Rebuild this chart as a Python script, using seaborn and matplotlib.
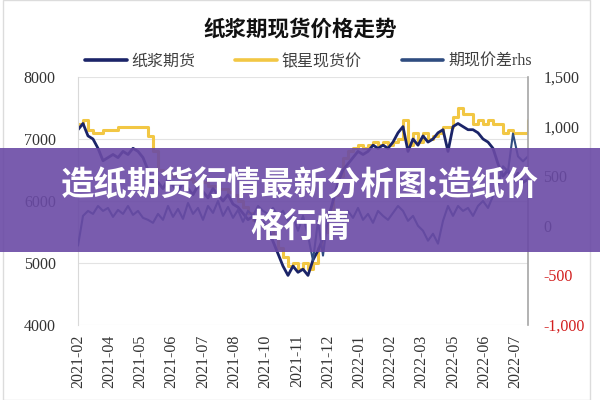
import numpy as np
import pandas as pd
import matplotlib
matplotlib.use("Agg")
import matplotlib.pyplot as plt
import seaborn as sns
from matplotlib.patches import Rectangle

# x轴标签 (每25个交易日一个)
months = ["2021-02", "2021-04", "2021-05", "2021-06", "2021-07", "2021-08",
          "2021-10", "2021-11", "2021-12", "2022-01", "2022-02", "2022-03",
          "2022-05", "2022-06", "2022-07"]

# 银星现货价 (每4个交易日取一个点)
spot = [7250, 7300, 7150, 7100, 7100, 7150, 7150, 7150, 7200, 7200,
        7200, 7200, 7200, 7200, 7050, 6800, 6500, 6450, 6450, 6400,
        6400, 6350, 6350, 6300, 6300, 6300, 6250, 6250, 6200, 6200,
        6150, 6100, 6000, 5900, 5800, 5700, 5650, 5600, 5550, 5450,
        5250, 5100, 4950, 5000, 4900, 5000, 4900, 5000, 5250, 5500,
        5800, 6100, 6400, 6700, 6800, 6850, 6900, 6850, 6900, 6950,
        6900, 6950, 6900, 6950, 7000, 7300, 6900, 7100, 6950, 7100,
        7000, 7050, 7100, 7200, 7200, 7350, 7500, 7400, 7400, 7250,
        7300, 7250, 7300, 7250, 7250, 7100, 7150, 7100, 7100, 7100, 7300]

# 纸浆期货
futures = [7150, 7250, 7050, 7000, 6850, 6650, 6700, 6750, 6700, 6800,
           6750, 6850, 6800, 6700, 6500, 6250, 6300, 6200, 6350, 6250,
           6150, 6300, 6200, 6100, 6250, 6150, 6050, 6200, 6100, 6000,
           6100, 5950, 5900, 5800, 5700, 5750, 5600, 5650, 5550, 5350,
           5150, 4950, 4800, 4950, 4850, 4900, 4800, 5050, 5200, 5400,
           5700, 6000, 6300, 6500, 6600, 6700, 6800, 6750, 6800, 6900,
           6850, 6900, 6850, 6950, 7100, 7200, 6800, 7000, 6900, 7050,
           6950, 7000, 7100, 7150, 6800, 7200, 7250, 7200, 7150, 7150,
           7100, 7000, 6950, 6850, 6600, 6400, 6500, 6300, 6450, 6300, 6350]

# 期现价差 (右轴)
spread = [-200, 100, 150, 120, 200, 150, 180, 90, 160, 120,
          200, 110, 150, 80, 60, 30, 120, 60, 200, 90,
          170, 70, 230, 120, 180, 60, 200, 130, 250, 100,
          190, 80, 160, 40, 150, 100, 200, 150, 120, 180,
          100, 150, 50, 100, -50, 100, -100, -350, 50, -300,
          100, 50, 120, 40, 150, 80, 180, 60, 120, 30,
          150, 100, 60, 130, 200, 150, 50, 100, 0, -50,
          -150, -80, -180, 50, 200, 100, 200, 150, 180, 100,
          200, 250, 180, 300, 400, 600, 550, 930, 700, 650, 700]

day = np.arange(len(spot)) * 4
df = pd.DataFrame({"day": day, "spot": spot, "futures": futures, "spread": spread})

sns.set_style("white")
plt.rcParams['font.family'] = ['Liberation Serif', 'Noto Sans CJK SC', 'DejaVu Sans']

fig = plt.figure(figsize=(6, 4), dpi=100)
ax = fig.add_axes([0.13, 0.1875, 0.75, 0.62])
ax2 = ax.twinx()

sns.lineplot(data=df, x="day", y="spot", ax=ax, color="#f2c744", lw=2.2,
             drawstyle="steps-post", legend=False)
sns.lineplot(data=df, x="day", y="futures", ax=ax, color="#1b2468", lw=2.0, legend=False)
sns.lineplot(data=df, x="day", y="spread", ax=ax2, color="#2f4c80", lw=1.5, legend=False)

ax.set_xlim(0, 360)
ax.set_ylim(4000, 8000)
ax.set_yticks([4000, 5000, 6000, 7000, 8000])
ax.set_xticks(np.arange(len(months)) * 25)
ax.set_xticklabels(months, rotation=90)
ax.set_xlabel("")
ax.set_ylabel("")
ax.yaxis.grid(True, color="#e3e3e3", lw=0.8)
ax.set_axisbelow(True)
ax.tick_params(axis="y", length=0, pad=16, labelsize=11.5, labelcolor="#333333")
ax.tick_params(axis="x", length=0, pad=7, labelsize=11.5, labelcolor="#333333")

ax2.set_ylim(-1000, 1500)
ax2.set_yticks([-1000, -500, 0, 500, 1000, 1500])
ax2.set_yticklabels(["-1,000", "-500", "0", "500", "1,000", "1,500"])
ax2.set_ylabel("")
ax2.tick_params(axis="y", length=0, pad=11, labelsize=11.5, labelcolor="#333333")
for lbl in ax2.get_yticklabels()[:2]:
    lbl.set_color("#d21f1f")

for s in ["top", "bottom", "right"]:
    ax.spines[s].set_visible(False)
ax.spines["left"].set_color("#d9d9d9")
for s in ["top", "bottom", "left"]:
    ax2.spines[s].set_visible(False)
ax2.spines["right"].set_color("#a6a6a6")
ax2.spines["right"].set_linewidth(1.2)

handles = [ax.lines[1], ax.lines[0], ax2.lines[0]]
leg = fig.legend(handles, ["纸浆期货", "银星现货价", "期现价差rhs"], loc="center",
                 bbox_to_anchor=(0.514, 0.845), ncol=3, frameon=False, fontsize=11.5,
                 handlelength=2.6, handletextpad=0.3, columnspacing=2.5)
for t in leg.get_texts():
    t.set_color("#404040")
for h in leg.legend_handles:
    h.set_linewidth(2.6)

fig.text(0.5, 0.928, "纸浆期现货价格走势", ha="center", va="center", fontsize=15.5,
         color="#111111", weight="bold", family=["Noto Sans CJK SC", "DejaVu Sans"])

# 外框
fig.add_artist(Rectangle((0.005, 0.0), 0.978, 1.0, transform=fig.transFigure,
                         facecolor="none", edgecolor="#dcdcdc", lw=1.0))

# 紫色横幅
fig.add_artist(Rectangle((0, 0.37), 1, 0.26, transform=fig.transFigure,
                         facecolor="#6a4aa5", alpha=0.9, edgecolor="none", zorder=10))
fig.text(0.5, 1 - 186 / 400, "造纸期货行情最新分析图:造纸价", ha="center", va="center",
         fontsize=24, color="white", weight="bold", zorder=11,
         family=["Noto Sans CJK SC", "DejaVu Sans"])
fig.text(0.5, 1 - 227 / 400, "格行情", ha="center", va="center",
         fontsize=24, color="white", weight="bold", zorder=11,
         family=["Noto Sans CJK SC", "DejaVu Sans"])

fig.savefig("out.png", dpi=100)
